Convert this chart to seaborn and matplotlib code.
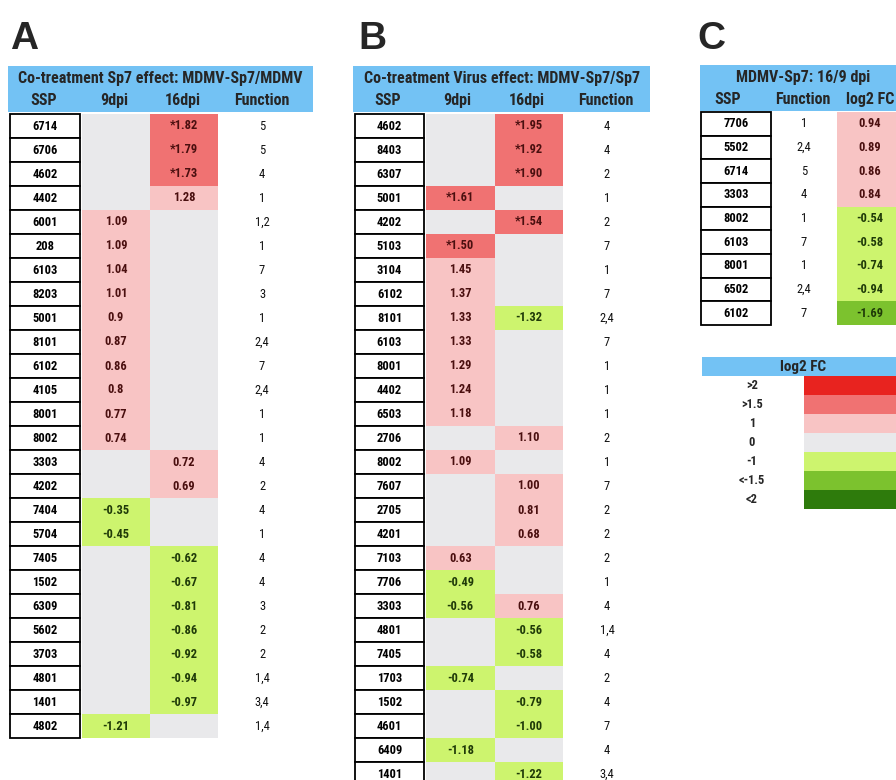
import numpy as np
import pandas as pd
import matplotlib
matplotlib.use("Agg")
import matplotlib.pyplot as plt
import seaborn as sns
from matplotlib.colors import ListedColormap, BoundaryNorm
from matplotlib.patches import Rectangle
from matplotlib import font_manager

nan = np.nan

# ---- Panel A: co-treatment Sp7 effect (MDMV-Sp7 / MDMV) ----
a_ssp = ["6714", "6706", "4602", "4402", "6001", "208", "6103", "8203", "5001",
         "8101", "6102", "4105", "8001", "8002", "3303", "4202", "7404", "5704",
         "7405", "1502", "6309", "5602", "3703", "4801", "1401", "4802"]
a_9dpi = [nan, nan, nan, nan, 1.09, 1.09, 1.04, 1.01, 0.9, 0.87, 0.86, 0.8, 0.77,
          0.74, nan, nan, -0.35, -0.45, nan, nan, nan, nan, nan, nan, nan, -1.21]
a_16dpi = [1.82, 1.79, 1.73, 1.28, nan, nan, nan, nan, nan, nan, nan, nan, nan,
           nan, 0.72, 0.69, nan, nan, -0.62, -0.67, -0.81, -0.86, -0.92, -0.94,
           -0.97, nan]
a_func = ["5", "5", "4", "1", "1,2", "1", "7", "3", "1", "2,4", "7", "2,4", "1",
          "1", "4", "2", "4", "1", "4", "4", "3", "2", "2", "1,4", "3,4", "1,4"]

# ---- Panel B: co-treatment virus effect (MDMV-Sp7 / Sp7) ----
b_ssp = ["4602", "8403", "6307", "5001", "4202", "5103", "3104", "6102", "8101",
         "6103", "8001", "4402", "6503", "2706", "8002", "7607", "2705", "4201",
         "7103", "7706", "3303", "4801", "7405", "1703", "1502", "4601", "6409",
         "1401"]
b_9dpi = [nan, nan, nan, 1.61, nan, 1.50, 1.45, 1.37, 1.33, 1.33, 1.29, 1.24,
          1.18, nan, 1.09, nan, nan, nan, 0.63, -0.49, -0.56, nan, nan, -0.74,
          nan, nan, -1.18, nan]
b_16dpi = [1.95, 1.92, 1.90, nan, 1.54, nan, nan, nan, -1.32, nan, nan, nan, nan,
           1.10, nan, 1.00, 0.81, 0.68, nan, nan, 0.76, -0.56, -0.58, nan, -0.79,
           -1.00, nan, -1.22]
b_func = ["4", "4", "2", "1", "2", "7", "1", "7", "2,4", "7", "1", "1", "1", "2",
          "1", "7", "2", "2", "2", "1", "4", "1,4", "4", "2", "4", "7", "4", "3,4"]

# ---- Panel C: MDMV-Sp7, 16 vs 9 dpi ----
c_ssp = ["7706", "5502", "6714", "3303", "8002", "6103", "8001", "6502", "6102"]
c_func = ["1", "2,4", "5", "4", "1", "7", "1", "2,4", "7"]
c_fc = [0.94, 0.89, 0.86, 0.84, -0.54, -0.58, -0.74, -0.94, -1.69]

# ---- colour key ----
key_labels = [">2", ">1.5", "1", "0", "-1", "<-1.5", "<2"]
key_values = [2.5, 1.75, 1.0, 0.0, -1.0, -1.75, -2.5]

bin_edges = [-9, -2, -1.5, -0.01, 0.01, 1.5, 2, 9]
bin_colors = ["#2E7B0C", "#7CC22E", "#CDF46E", "#E9E9EB", "#F8C4C4", "#F07272",
              "#E8231F"]
cmap = ListedColormap(bin_colors)
norm = BoundaryNorm(bin_edges, cmap.N)
BAR = "#73C2F4"
POS_TXT = "#4A0F0F"
NEG_TXT = "#1F3A08"

sns.set_theme(style="white")
available = {f.name for f in font_manager.fontManager.ttflist}
narrow = next((n for n in ["Liberation Sans Narrow", "DejaVu Sans Condensed",
                           "Roboto Condensed", "Open Sans Condensed",
                           "Liberation Sans"] if n in available), "DejaVu Sans")
plt.rcParams["font.family"] = [narrow, "DejaVu Sans"]
shrink = 1.0 if narrow != "Liberation Sans" else 0.85

W, H = 896, 780
fig = plt.figure(figsize=(W / 100, H / 100), dpi=100)
fig.patch.set_facecolor("white")

deco = fig.add_axes([0, 0, 1, 1])
deco.set_xlim(0, W)
deco.set_ylim(H, 0)
deco.set_axis_off()


def px_axes(x0, y0, x1, y1):
    return fig.add_axes([x0 / W, 1 - y1 / H, (x1 - x0) / W, (y1 - y0) / H])


def cell_label(v, fmt):
    if np.isnan(v):
        return ""
    s = fmt(v)
    return "*" + s if v >= 1.5 else s


def value_table(ax, columns, fmt):
    df = pd.DataFrame(columns)
    shown = df.fillna(0.0)
    labels = df.apply(lambda col: col.map(lambda v: cell_label(v, fmt)))
    sns.heatmap(shown, ax=ax, cmap=cmap, norm=norm, cbar=False,
                annot=labels.values, fmt="", xticklabels=False,
                yticklabels=False, linewidths=0,
                annot_kws={"fontsize": 9 * shrink, "fontweight": "bold"})
    for t, v in zip(ax.texts, df.values.ravel()):
        t.set_color(POS_TXT if v > 0 else NEG_TXT)
    ax.set_axis_off()


def ssp_boxes(names, x0, x1, top, h):
    for i, name in enumerate(names):
        y = top + i * h
        deco.add_patch(Rectangle((x0, y), x1 - x0, h, facecolor="white",
                                 edgecolor="black", linewidth=1.3))
        deco.text((x0 + x1) / 2, y + h / 2, name, ha="center", va="center",
                  fontsize=9 * shrink, fontweight="bold", color="black")


def func_column(items, xc, top, h):
    for i, s in enumerate(items):
        deco.text(xc, top + (i + 0.5) * h, s, ha="center", va="center",
                  fontsize=9 * shrink, color="#111111")


def header(x0, x1, y0, y1, title, cols, tx=None):
    deco.add_patch(Rectangle((x0, y0), x1 - x0, y1 - y0, facecolor=BAR,
                             edgecolor="none"))
    ym = (y0 + y1) / 2
    deco.text((x0 + x1) / 2 if tx is None else tx, y0 + (ym - y0) / 2 + 1,
              title, ha="center", va="center", fontsize=11.5 * shrink,
              fontweight="bold")
    for xc, s in cols:
        deco.text(xc, ym + (y1 - ym) / 2, s, ha="center", va="center",
                  fontsize=11.5 * shrink, fontweight="bold")


def panel_letter(x, s):
    deco.text(x, 49, s, ha="left", va="baseline", fontsize=28,
              fontweight="bold", family=["Liberation Sans", "DejaVu Sans"])


rh = 24.0
top_ab = 114

# Panel A
panel_letter(10, "A")
header(8, 313, 66, 112, "Co-treatment Sp7 effect: MDMV-Sp7/MDMV",
       [(44, "SSP"), (114, "9dpi"), (183, "16dpi"), (262, "Function")])
ssp_boxes(a_ssp, 10, 80, top_ab, rh)
func_column(a_func, 262, top_ab, rh)
axA = px_axes(82, top_ab, 218, top_ab + rh * len(a_ssp))
value_table(axA, {"9dpi": a_9dpi, "16dpi": a_16dpi}, lambda v: f"{v:g}")

# Panel B
panel_letter(358, "B")
header(353, 650, 66, 112, "Co-treatment Virus effect: MDMV-Sp7/Sp7",
       [(388, "SSP"), (457, "9dpi"), (527, "16dpi"), (606, "Function")])
ssp_boxes(b_ssp, 355, 424, top_ab, rh)
func_column(b_func, 607, top_ab, rh)
axB = px_axes(426, top_ab, 563, top_ab + rh * len(b_ssp))
value_table(axB, {"9dpi": b_9dpi, "16dpi": b_16dpi}, lambda v: f"{v:.2f}")

# Panel C
rc = 23.67
top_c = 112
panel_letter(697, "C")
header(700, 920, 65, 111, "MDMV-Sp7: 16/9 dpi",
       [(728, "SSP"), (803, "Function"), (870, "log2 FC")], tx=803)
ssp_boxes(c_ssp, 701, 771, top_c, rc)
func_column(c_func, 804, top_c, rc)
axC = px_axes(837, top_c, 919, top_c + rc * len(c_ssp))
value_table(axC, {"log2 FC": c_fc}, lambda v: f"{v:.2f}")
for t in axC.texts:
    x, y = t.get_position()
    t.set_position((x - 0.1, y))

# Colour key
deco.add_patch(Rectangle((702, 357), 904 - 702, 19, facecolor=BAR,
                         edgecolor="none"))
deco.text(803, 366.5, "log2 FC", ha="center", va="center",
          fontsize=11 * shrink, fontweight="bold")
kh = 19
axK = px_axes(804, 376, 920, 376 + kh * len(key_values))
sns.heatmap(pd.DataFrame({"key": key_values}), ax=axK, cmap=cmap, norm=norm,
            cbar=False, xticklabels=False, yticklabels=False)
axK.set_axis_off()
for i, s in enumerate(key_labels):
    deco.text(752, 376 + (i + 0.5) * kh, s, ha="center", va="center",
              fontsize=9 * shrink, fontweight="bold")

fig.savefig("out.png", dpi=100, facecolor="white")
